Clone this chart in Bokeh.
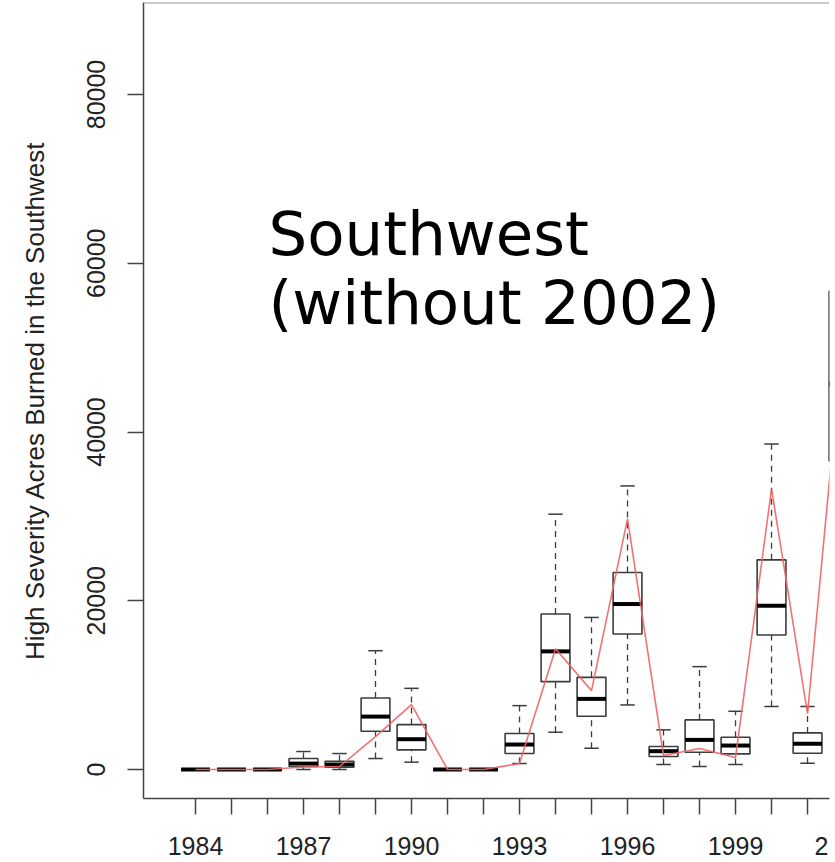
from bokeh.plotting import figure
from bokeh.models import Range1d, FixedTicker, Label, Span, ColumnDataSource
from bokeh.embed import file_html
from bokeh.resources import INLINE

# ---------------- data ----------------
years = [1984, 1985, 1986, 1987, 1988, 1989, 1990, 1991, 1992, 1993,
         1994, 1995, 1996, 1997, 1998, 1999, 2000, 2001, 2002]
whisker_low = [0, 0, 0, 0, 0, 1300, 870, 0, 0, 710,
               4420, 2520, 7650, 590, 350, 590, 7460, 750, 20000]
q1 = [0, 0, 0, 350, 270, 4530, 2330, 0, 0, 1890,
      10410, 6310, 16060, 1540, 2050, 1850, 15940, 1930, 36570]
median = [0, 0, 0, 700, 590, 6270, 3590, 0, 0, 2960,
          14000, 8370, 19610, 2170, 3510, 2840, 19410, 3040, 45700]
q3 = [0, 0, 0, 1300, 980, 8480, 5320, 0, 0, 4260,
      18430, 10920, 23350, 2720, 5880, 3830, 24850, 4340, 56690]
whisker_high = [0, 0, 0, 2130, 1890, 14080, 9620, 0, 0, 7570,
                30260, 18020, 33610, 4700, 12190, 6900, 38580, 7460, 75000]
observed = [0, 0, 0, 300, 350, 3900, 7700, 0, 0, 700,
            14300, 9350, 29700, 1650, 2480, 1420, 33250, 6630, 52000]

y_ticks = [0, 20000, 40000, 60000, 80000]
x_label_years = [1984, 1987, 1990, 1993, 1996, 1999]
# the 2002 label is cut by the right edge of the picture: only its "2" shows,
# just right of the 2001 tick
x_cut_label = {2001: "\u00a0\u00a0\u00a0\u00a02"}
y_title = "High Severity Acres Burned in the Southwest"
title_lines = ["Southwest", "(without 2002)"]

# ---------------- style ----------------
BOX_HALF = 0.4
STAPLE_HALF = 0.2
DARK = "#3c3c3c"
AXIS_FONT = "Liberation Sans"

src = ColumnDataSource(dict(
    x=years,
    left=[y - BOX_HALF for y in years],
    right=[y + BOX_HALF for y in years],
    sl=[y - STAPLE_HALF for y in years],
    sr=[y + STAPLE_HALF for y in years],
    lo=whisker_low, q1=q1, med=median, q3=q3, hi=whisker_high,
    obs=observed,
))

p = figure(width=835, height=862, output_backend="svg", toolbar_location=None,
           x_range=Range1d(1982.556, 2001.61), y_range=Range1d(-3437, 90904),
           min_border_left=143, min_border_right=6, min_border_top=2,
           min_border_bottom=64)
p.outline_line_color = None
p.xgrid.visible = False
p.ygrid.visible = False
p.background_fill_color = "white"
p.border_fill_color = "white"

# whiskers (dashed)
p.segment(x0="x", y0="q3", x1="x", y1="hi", source=src, line_color=DARK,
          line_width=1.3, line_dash="6 5")
p.segment(x0="x", y0="lo", x1="x", y1="q1", source=src, line_color=DARK,
          line_width=1.3, line_dash="6 5")
# staples
p.segment(x0="sl", y0="hi", x1="sr", y1="hi", source=src, line_color=DARK, line_width=1.5)
p.segment(x0="sl", y0="lo", x1="sr", y1="lo", source=src, line_color=DARK, line_width=1.5)
# boxes
p.quad(left="left", right="right", bottom="q1", top="q3", source=src,
       fill_color="white", line_color=DARK, line_width=1.6)
# medians
p.segment(x0="left", y0="med", x1="right", y1="med", source=src,
          line_color="black", line_width=4)
# observed line
p.line(x="x", y="obs", source=src, line_color="#ee6464", line_width=1.6, line_alpha=0.9)

# top frame line
p.add_layout(Span(location=90904, dimension="width", line_color="#9a9a9a", line_width=2))

# axes
for ax in (p.xaxis[0], p.yaxis[0]):
    ax.axis_line_color = "#444444"
    ax.axis_line_width = 1.5
    ax.major_tick_line_color = "#444444"
    ax.major_tick_line_width = 1.5
    ax.major_tick_in = 0
    ax.major_tick_out = 16
    ax.minor_tick_line_color = None
    ax.major_label_text_font = AXIS_FONT
    ax.major_label_text_font_size = "25px"
    ax.major_label_text_color = "#222222"

overrides = {y: (str(y) if y in x_label_years else "") for y in years}
overrides.update(x_cut_label)
p.xaxis.ticker = FixedTicker(ticks=years)
p.xaxis.major_label_overrides = overrides
p.xaxis.major_label_standoff = 17

p.yaxis.ticker = FixedTicker(ticks=y_ticks)
p.yaxis.major_label_orientation = "vertical"
p.yaxis.major_label_standoff = 22
p.yaxis.axis_label = y_title
p.yaxis.axis_label_text_font = AXIS_FONT
p.yaxis.axis_label_text_font_size = "26px"
p.yaxis.axis_label_text_font_style = "normal"
p.yaxis.axis_label_text_color = "#222222"
p.yaxis.axis_label_standoff = 35

# overlay title
for i, t in enumerate(title_lines):
    p.add_layout(Label(x=1986.03, y=63526 - i * 8180, text=t,
                       text_font="DejaVu Sans", text_font_size="61px",
                       text_color="black", text_baseline="alphabetic"))

open("out.html", "w").write(file_html(p, INLINE))
